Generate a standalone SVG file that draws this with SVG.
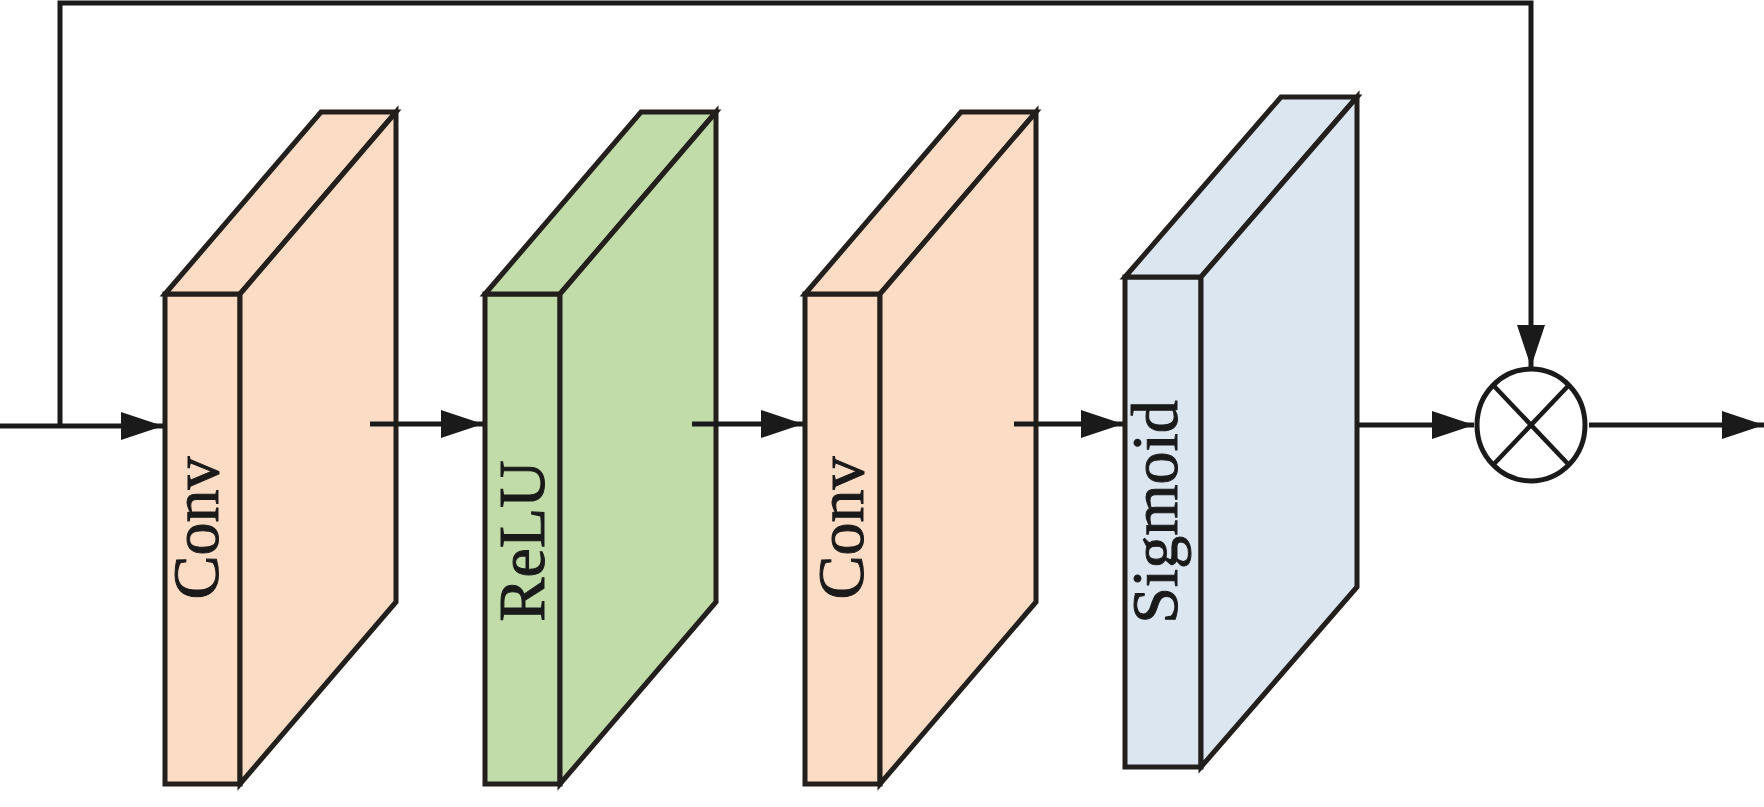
<svg xmlns="http://www.w3.org/2000/svg" width="1764" height="807" viewBox="0 0 1764 807">
<defs>
<style>
.blk{stroke:#231f1c;stroke-width:5;stroke-linejoin:miter}
.peach{fill:#fddcc6}
.green{fill:#c1dca8}
.blue{fill:#dce6f1}
.lbl{font-family:"Liberation Serif","Times New Roman",serif;font-size:66px;fill:#1a1a1a;stroke:#1a1a1a;stroke-width:1;text-anchor:middle}
.ln{fill:none;stroke:#1a1a1a;stroke-width:5}
</style>
<marker id="ah" markerUnits="userSpaceOnUse" markerWidth="44" markerHeight="28" refX="42" refY="14" orient="auto" viewBox="0 0 44 28">
<path d="M0,0 L42,14 L0,28 z" fill="#1a1a1a"/>
</marker>
</defs>
<rect width="1764" height="807" fill="#ffffff"/>

<g id="conv1">
<rect class="blk peach" x="165" y="294" width="75" height="490"/>
<polygon class="blk peach" points="165,294 321,112 396,112 240,294"/>
<polygon class="blk peach" points="240,294 396,112 396,602 240,784"/>
<text class="lbl" transform="translate(218,528) rotate(-90)">Conv</text>
</g>

<g id="relu">
<rect class="blk green" x="485" y="294" width="75" height="490"/>
<polygon class="blk green" points="485,294 641,112 716,112 560,294"/>
<polygon class="blk green" points="560,294 716,112 716,602 560,784"/>
<text class="lbl" transform="translate(544,541) rotate(-90)">ReLU</text>
</g>

<g id="conv2">
<rect class="blk peach" x="805" y="294" width="75" height="490"/>
<polygon class="blk peach" points="805,294 961,112 1036,112 880,294"/>
<polygon class="blk peach" points="880,294 1036,112 1036,602 880,784"/>
<text class="lbl" transform="translate(863,528) rotate(-90)">Conv</text>
</g>

<g id="sigmoid">
<rect class="blk blue" x="1125" y="277" width="76" height="490"/>
<polygon class="blk blue" points="1125,277 1281,97 1357,97 1201,277"/>
<polygon class="blk blue" points="1201,277 1357,97 1357,587 1201,767"/>
<text class="lbl" transform="translate(1177,512) rotate(-90)">Sigmoid</text>
</g>

<g id="multiply">
<ellipse cx="1531" cy="425" rx="54" ry="56" fill="#ffffff" stroke="#1a1a1a" stroke-width="5"/>
<line x1="1493" y1="385" x2="1569" y2="465" stroke="#1a1a1a" stroke-width="4.5"/>
<line x1="1569" y1="385" x2="1493" y2="465" stroke="#1a1a1a" stroke-width="4.5"/>
</g>

<g id="connectors">
<path class="ln" d="M0,426 L163,426" marker-end="url(#ah)"/>
<path class="ln" d="M60,426 L60,3 L1531,3 L1531,367" marker-end="url(#ah)"/>
<path class="ln" d="M370,424 L483,424" marker-end="url(#ah)"/>
<path class="ln" d="M692,424 L803,424" marker-end="url(#ah)"/>
<path class="ln" d="M1014,424 L1123,424" marker-end="url(#ah)"/>
<path class="ln" d="M1357,425 L1474,425" marker-end="url(#ah)"/>
<path class="ln" d="M1589,425 L1764,425" marker-end="url(#ah)"/>
</g>
</svg>
